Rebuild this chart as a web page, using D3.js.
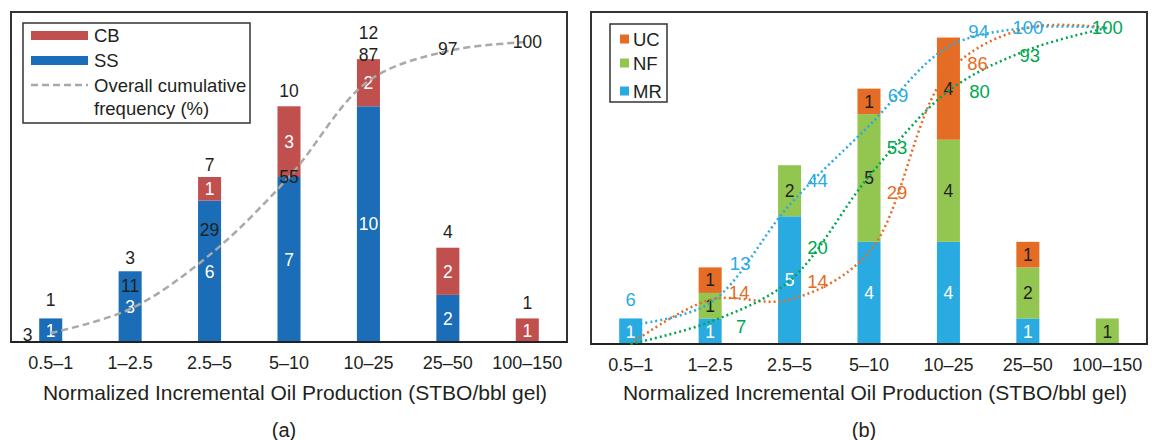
<!DOCTYPE html>
<html lang="en">
<head>
  <meta charset="UTF-8" />
  <title>Normalized Incremental Oil Production</title>
  <script src="https://d3js.org/d3.v7.min.js"></script>
  <style>
    body {
      margin: 0;
      background: #fff;
      font-family: 'Liberation Sans', Arial, sans-serif;
    }
    svg text { fill: #231f20; }
    .frame { fill: none; stroke: #333; stroke-width: 2; }
    .axis-line { stroke: #222; stroke-width: 2; }
  </style>
</head>
<body>
  <svg id="chart" width="1152" height="440"></svg>

  <script>
    // bins of normalized incremental oil production
    const categories = ["0.5–1", "1–2.5", "2.5–5", "5–10", "10–25", "25–50", "100–150"];

    // panel (a): counts by treatment type
    const ssCounts = [1, 3, 6, 7, 10, 2, 0];
    const cbCounts = [0, 0, 1, 3, 2, 2, 1];
    const overallCum = [3, 11, 29, 55, 87, 97, 100];

    // panel (b): counts by formation type
    const mrCounts = [1, 1, 5, 4, 4, 1, 0];
    const nfCounts = [0, 1, 2, 5, 4, 2, 1];
    const ucCounts = [0, 1, 0, 1, 4, 1, 0];
    const mrCum = [6, 13, 44, 69, 94, 100, 100];
    const nfCum = [0, 7, 20, 53, 80, 93, 100];
    const ucCum = [0, 14, 14, 29, 86, 100, 100];

    const xTitle = "Normalized Incremental Oil Production (STBO/bbl gel)";

    const svg = d3.select("#chart");

    function panel(opts) {
      const g = svg.append("g");
      const x = d3.scaleBand().domain(categories)
        .range([opts.x0, opts.x1]).paddingInner(0.71).paddingOuter(0.355);
      const y = d3.scaleLinear().domain([0, opts.yMax]).range([opts.yBot, opts.yTop]);
      const yp = d3.scaleLinear().domain([0, opts.pMax]).range([opts.yBot, opts.yTop]);

      // frame
      g.append("rect").attr("class", "frame")
        .attr("x", opts.x0).attr("y", opts.yTop)
        .attr("width", opts.x1 - opts.x0).attr("height", opts.yBot - opts.yTop);

      // stacked bars
      const stack = d3.stack().keys(opts.series.map(s => s.key))(
        categories.map((c, i) => {
          const row = { cat: c };
          opts.series.forEach(s => row[s.key] = s.values[i]);
          return row;
        })
      );
      stack.forEach((layer, li) => {
        const s = opts.series[li];
        layer.forEach((d, i) => {
          if (d[1] - d[0] <= 0) return;
          g.append("rect")
            .attr("x", x(categories[i])).attr("width", x.bandwidth())
            .attr("y", y(d[1])).attr("height", y(d[0]) - y(d[1]))
            .attr("fill", s.color);
          g.append("text")
            .attr("x", x(categories[i]) + x.bandwidth() / 2)
            .attr("y", (y(d[0]) + y(d[1])) / 2)
            .attr("dy", "0.36em")
            .attr("text-anchor", "middle")
            .style("font-size", "17.5px")
            .style("fill", s.textColor)
            .text(d[1] - d[0]);
        });
      });

      // axis line
      g.append("line").attr("class", "axis-line")
        .attr("x1", opts.x0).attr("x2", opts.x1)
        .attr("y1", opts.yBot).attr("y2", opts.yBot);

      // cumulative lines
      const cx = c => x(c) + x.bandwidth() / 2;
      opts.lines.forEach(l => {
        const line = d3.line()
          .x((v, i) => cx(categories[i]))
          .y(v => yp(v))
          .curve(d3.curveCatmullRom.alpha(0.5));
        g.append("path").datum(l.values)
          .attr("d", line)
          .attr("fill", "none")
          .attr("stroke", l.color)
          .attr("stroke-width", l.width)
          .attr("stroke-dasharray", l.dash);
      });
      opts.lines.forEach(l => {
        l.values.forEach((v, i) => {
          const off = l.labelOffsets[i];
          if (!off) return;
          g.append("text")
            .attr("x", cx(categories[i]) + off[0])
            .attr("y", yp(v) + off[1])
            .attr("dy", "0.36em")
            .attr("text-anchor", "middle")
            .style("font-size", opts.lineLabelSize)
            .style("fill", l.labelColor)
            .text(v);
        });
      });

      // totals above bars
      if (opts.totalOffsets) {
        categories.forEach((c, i) => {
          const total = d3.sum(opts.series, s => s.values[i]);
          g.append("text")
            .attr("x", cx(c))
            .attr("y", y(total) - 15 + opts.totalOffsets[i])
            .attr("dy", "0.36em")
            .attr("text-anchor", "middle")
            .style("font-size", "17.5px")
            .text(total);
        });
      }

      // category ticks
      g.selectAll(".tick-label").data(categories).join("text")
        .attr("x", d => cx(d))
        .attr("y", opts.yBot + 27)
        .attr("text-anchor", "middle")
        .style("font-size", "18px")
        .text(d => d);

      // axis title and panel tag
      g.append("text")
        .attr("x", (opts.x0 + opts.x1) / 2 + 6)
        .attr("y", 400)
        .attr("text-anchor", "middle")
        .style("font-size", "21px")
        .text(xTitle);
      g.append("text")
        .attr("x", opts.tagX)
        .attr("y", 437)
        .attr("text-anchor", "middle")
        .style("font-size", "20px")
        .text(opts.tag);

      return g;
    }

    // ---- panel (a)
    const ga = panel({
      x0: 11, x1: 567, yTop: 12, yBot: 342, yMax: 14, pMax: 110,
      series: [
        { key: "SS", values: ssCounts, color: "#1a6db6", textColor: "#fff" },
        { key: "CB", values: cbCounts, color: "#c0504d", textColor: "#fff" }
      ],
      lines: [
        { values: overallCum, color: "#a9a9a9", width: 2.5, dash: "7,4", labelColor: "#231f20",
          labelOffsets: [[-23, 2], [0, -23], [0, -25], [0, 0], [0, -26], [0, -2], [0, 0]] }
      ],
      lineLabelSize: "17.5px",
      totalOffsets: [-4, 1, 3, -1, -11, -1, -1],
      tag: "(a)", tagX: 284
    });

    const legA = ga.append("g");
    legA.append("rect").attr("x", 23).attr("y", 23).attr("width", 227).attr("height", 100)
      .attr("fill", "#fff").attr("stroke", "#333").attr("stroke-width", 1.5);
    legA.append("rect").attr("x", 31).attr("y", 31).attr("width", 57).attr("height", 9).attr("fill", "#c0504d");
    legA.append("rect").attr("x", 31).attr("y", 56).attr("width", 57).attr("height", 9).attr("fill", "#1a6db6");
    legA.append("line").attr("x1", 31).attr("x2", 88).attr("y1", 85).attr("y2", 85)
      .attr("stroke", "#a9a9a9").attr("stroke-width", 2.5).attr("stroke-dasharray", "7,4");
    [["CB", 35], ["SS", 60], ["Overall cumulative", 85], ["frequency (%)", 108]].forEach(([t, yy]) => {
      legA.append("text").attr("x", 94).attr("y", yy).attr("dy", "0.36em")
        .style("font-size", "18.5px").text(t);
    });

    // ---- panel (b)
    const gb = panel({
      x0: 591, x1: 1147, yTop: 12, yBot: 344, yMax: 13, pMax: 105,
      series: [
        { key: "MR", values: mrCounts, color: "#29abe2", textColor: "#fff" },
        { key: "NF", values: nfCounts, color: "#92c650", textColor: "#231f20" },
        { key: "UC", values: ucCounts, color: "#e46c24", textColor: "#231f20" }
      ],
      lines: [
        { values: ucCum, color: "#e46c24", width: 2.5, dash: "2,3", labelColor: "#e46c24",
          labelOffsets: [null, [29, -7], [28, -18], [28, -60], [29, -9], null, null] },
        { values: nfCum, color: "#00a650", width: 2.5, dash: "2,3", labelColor: "#00a650",
          labelOffsets: [null, [31, 4], [28, -33], [28, -29], [31, 0], [2, 5], [0, 0]] },
        { values: mrCum, color: "#29abe2", width: 2.5, dash: "2,3", labelColor: "#29abe2",
          labelOffsets: [[0, -26], [30, -40], [28, -25], [29, -30], [30, -15], [0, 0], null] }
      ],
      lineLabelSize: "18.5px",
      tag: "(b)", tagX: 864
    });

    const legB = gb.append("g");
    legB.append("rect").attr("x", 610).attr("y", 24).attr("width", 57).attr("height", 78)
      .attr("fill", "#fff").attr("stroke", "#333").attr("stroke-width", 1.5);
    [["UC", "#e46c24", 39], ["NF", "#92c650", 63], ["MR", "#29abe2", 91]].forEach(([t, c, yy]) => {
      legB.append("rect").attr("x", 620).attr("y", yy - 4.5).attr("width", 9).attr("height", 9).attr("fill", c);
      legB.append("text").attr("x", 633).attr("y", yy).attr("dy", "0.36em")
        .style("font-size", "18.5px").text(t);
    });
  </script>
</body>
</html>
